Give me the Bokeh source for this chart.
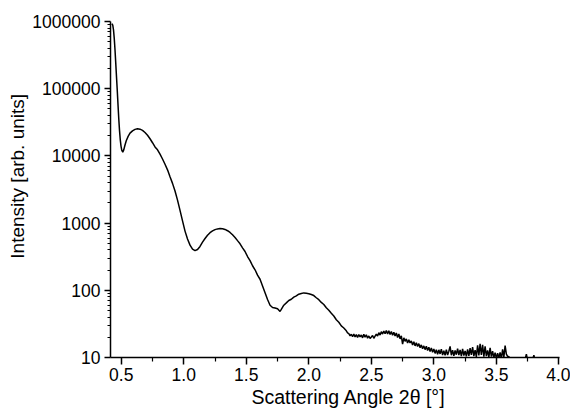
from bokeh.plotting import figure
from bokeh.models import Range1d, FixedTicker, CustomJSTickFormatter, PrintfTickFormatter
from bokeh.embed import file_html
from bokeh.resources import INLINE

# Scattering angle 2θ (degrees) and measured intensity (arb. units)
angle = [
    0.425, 0.432, 0.438, 0.444, 0.450, 0.456, 0.462, 0.468, 0.474, 0.480,
    0.486, 0.492, 0.498, 0.504, 0.512, 0.520, 0.530, 0.540, 0.555, 0.570,
    0.590, 0.610, 0.630, 0.650, 0.670, 0.690, 0.710, 0.730, 0.750, 0.770,
    0.790, 0.810, 0.830, 0.850, 0.870, 0.890, 0.910, 0.930, 0.950, 0.970,
    0.990, 1.010, 1.030, 1.050, 1.070, 1.090, 1.110, 1.130, 1.150, 1.170,
    1.190, 1.210, 1.230, 1.250, 1.270, 1.290, 1.310, 1.330, 1.350, 1.370,
    1.390, 1.410, 1.430, 1.450, 1.470, 1.490, 1.510, 1.530, 1.550, 1.570,
    1.590, 1.610, 1.630, 1.650, 1.670, 1.690, 1.710, 1.730, 1.750, 1.770,
    1.780, 1.800, 1.820, 1.840, 1.860, 1.880, 1.900, 1.920, 1.940, 1.960,
    1.980, 2.000, 2.020, 2.040, 2.060, 2.080, 2.100, 2.120, 2.140, 2.160,
    2.180, 2.200, 2.220, 2.240, 2.260, 2.280,
    2.30, 2.31, 2.32, 2.33, 2.34, 2.35, 2.36, 2.37, 2.38, 2.39,
    2.40, 2.41, 2.42, 2.43, 2.44, 2.45, 2.46, 2.47, 2.48, 2.49,
    2.50, 2.51, 2.52, 2.53, 2.54, 2.55, 2.56, 2.57, 2.58, 2.59,
    2.60, 2.61, 2.62, 2.63, 2.64, 2.65, 2.66, 2.67, 2.68, 2.69,
    2.70, 2.71, 2.72, 2.73, 2.74, 2.75, 2.76, 2.77, 2.78, 2.79,
    2.80, 2.81, 2.82, 2.83, 2.84, 2.85, 2.86, 2.87, 2.88, 2.89,
    2.90, 2.91, 2.92, 2.93, 2.94, 2.95, 2.96, 2.97, 2.98, 2.99,
    3.00, 3.01, 3.02, 3.03, 3.04, 3.05, 3.06, 3.07, 3.08, 3.09,
    3.10, 3.11, 3.12, 3.13, 3.14, 3.15, 3.16, 3.17, 3.18, 3.19,
    3.20, 3.21, 3.22, 3.23, 3.24, 3.25, 3.26, 3.27, 3.28, 3.29,
    3.30, 3.31, 3.32, 3.33, 3.34, 3.35, 3.36, 3.37, 3.38, 3.39,
    3.40, 3.41, 3.42, 3.43, 3.44, 3.45, 3.46, 3.47, 3.48, 3.49,
    3.50, 3.51, 3.52, 3.53, 3.54, 3.55, 3.56, 3.57, 3.58, 3.59,
    3.60, 3.61, 3.62, 3.63, 3.64, 3.65, 3.66, 3.67, 3.68, 3.69,
    3.70, 3.71, 3.72, 3.73, 3.74, 3.75, 3.76, 3.77, 3.78, 3.79,
    3.80, 3.81, 3.82, 3.83, 3.84, 3.85,
]

intensity = [
    930000, 880000, 750000, 560000, 380000, 240000, 150000, 95000, 58000, 36000,
    24000, 17500, 14000, 12200, 11400, 12300, 14500, 16800, 19500, 21800,
    23600, 24800, 25300, 25000, 24000, 22300, 20300, 18000, 15700, 13600,
    12300, 10600, 9000, 7500, 6200, 4900, 3900, 3000, 2200, 1550,
    1080, 760, 580, 470, 410, 390, 405, 450, 520, 590,
    660, 720, 765, 800, 820, 830, 825, 805, 770, 725,
    670, 612, 548, 492, 428, 378, 318, 276, 232, 202,
    168, 146, 116, 92, 73, 60, 55.5, 54.5, 53, 48.5,
    52, 60, 65, 70.5, 73.5, 79, 82.5, 87.5, 89.5, 91.5,
    90.5, 89, 86.5, 83.5, 77.5, 72.5, 66, 61.5, 55, 50.5,
    45.5, 41.5, 36.5, 33.5, 29.5, 27.5,
    25.0, 23.2, 22.6, 21.0, 22.2, 20.4, 22.4, 20.2, 21.9, 19.8,
    22.0, 20.3, 21.6, 19.6, 22.1, 20.0, 21.8, 19.4, 20.9, 19.2,
    20.2, 21.3, 19.3, 20.8, 22.3, 20.9, 23.4, 21.6, 24.2, 22.3,
    24.8, 22.6, 25.2, 22.4, 25.0, 22.0, 24.4, 21.4, 23.8, 20.9,
    23.2, 19.8, 22.4, 18.9, 21.0, 15.8, 19.6, 17.4, 18.9, 16.4,
    18.3, 16.5, 17.6, 15.4, 17.2, 14.9, 16.6, 14.6, 16.1, 14.0,
    15.4, 13.5, 14.9, 13.1, 14.7, 12.7, 14.2, 12.3, 13.9, 12.0,
    13.4, 11.5, 13.1, 11.2, 13.0, 11.3, 13.3, 10.9, 12.6, 10.8,
    13.1, 10.9, 12.4, 14.6, 10.8, 12.9, 10.6, 12.7, 11.0, 13.6,
    10.9, 13.0, 10.5, 13.4, 10.7, 12.5, 10.4, 13.2, 10.6, 13.8,
    10.9, 14.3, 10.5, 12.9, 10.2, 15.2, 10.7, 16.0, 10.9, 15.4,
    10.3, 14.6, 10.5, 12.8, 10.1, 13.9, 10.3, 12.4, 9.9, 11.8,
    9.7, 11.6, 9.8, 11.9, 9.6, 13.2, 10.1, 15.0, 11.2, 10.4,
    10.3, 9.2, 9.8, 9.0, 9.6, 8.8, 9.5, 8.9, 9.4, 8.7,
    9.3, 8.8, 9.6, 9.4, 11.2, 9.1, 9.5, 8.9, 9.4, 9.3,
    10.8, 9.0, 8.7, 9.3, 8.8, 9.1,
]

x_ticks = [0.5, 1.0, 1.5, 2.0, 2.5, 3.0, 3.5, 4.0]
x_minor = [0.75, 1.25, 1.75, 2.25, 2.75, 3.25, 3.75]
y_ticks = [10, 100, 1000, 10000, 100000, 1000000]
y_minor = [m * d for d in [10, 100, 1000, 10000, 100000] for m in range(2, 10)]

# Non-breaking spaces on the leading side nudge each title off the
# frame's centre line.
PAD = "\u00a0" * 5
x_title = PAD + "Scattering Angle 2θ [°]"
y_title = PAD + "Intensity [arb. units]"

FONT = "Liberation Sans"

p = figure(
    width=570, height=412,
    x_range=Range1d(0.414, 4.005),
    y_range=Range1d(10, 1000000),
    y_axis_type="log",
    output_backend="svg",
    toolbar_location=None,
    min_border_left=110, min_border_right=11,
    min_border_top=21, min_border_bottom=55,
)
p.outline_line_color = None
p.xgrid.visible = False
p.ygrid.visible = False
p.background_fill_color = "white"
p.border_fill_color = "white"

p.line(angle, intensity, line_color="black", line_width=1.5)

xa = p.xaxis[0]
xa.ticker = FixedTicker(ticks=x_ticks, minor_ticks=x_minor)
xa.formatter = PrintfTickFormatter(format="%.1f")
xa.axis_label = x_title

ya = p.yaxis[0]
ya.ticker = FixedTicker(ticks=y_ticks, minor_ticks=y_minor)
ya.formatter = CustomJSTickFormatter(code="return tick.toFixed(0);")
ya.axis_label = y_title

for ax in (xa, ya):
    ax.axis_line_color = "black"
    ax.axis_line_width = 1.5
    ax.major_tick_line_color = "black"
    ax.major_tick_line_width = 1.5
    ax.minor_tick_line_color = "black"
    ax.minor_tick_line_width = 1.2
    ax.major_tick_in = 0
    ax.minor_tick_in = 0
    ax.major_label_text_font = FONT
    ax.major_label_text_font_size = "17.5px"
    ax.major_label_text_color = "black"
    ax.axis_label_text_font = FONT
    ax.axis_label_text_font_style = "normal"
    ax.axis_label_text_color = "black"

xa.axis_label_text_font_size = "19.5px"
ya.axis_label_text_font_size = "19px"
xa.major_tick_out = 7
xa.minor_tick_out = 4
xa.major_label_standoff = 3
xa.axis_label_standoff = 2
ya.major_tick_out = 6
ya.minor_tick_out = 3
ya.major_label_standoff = 4
ya.axis_label_standoff = 1

open("out.html", "w").write(file_html(p, INLINE))
